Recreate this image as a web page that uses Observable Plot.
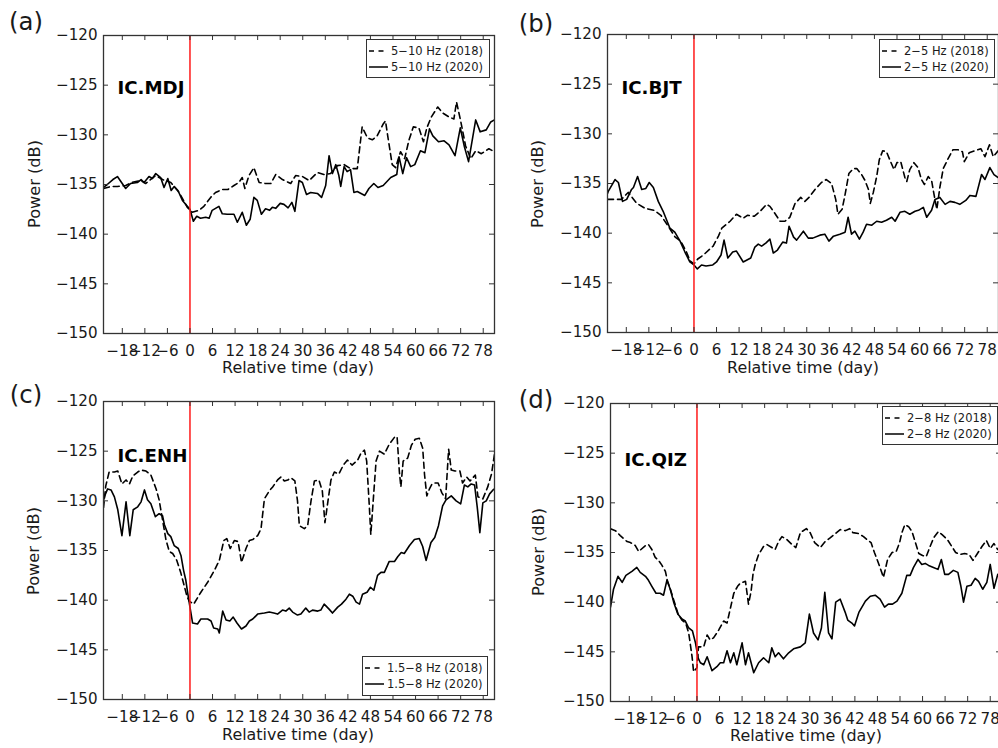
<!DOCTYPE html>
<html>
<head>
<meta charset="utf-8">
<script src="https://cdn.jsdelivr.net/npm/d3@7"></script>
<script src="https://cdn.jsdelivr.net/npm/@observablehq/plot@0.6"></script>
<style>
html, body { margin: 0; padding: 0; background: #fff; }
#root { position: relative; width: 998px; height: 748px; overflow: hidden; font-family: "DejaVu Sans", sans-serif; color: #1a1a1a; }
.panel { position: absolute; }
.letter { position: absolute; line-height: 1; transform: translate(-50%, -50%); white-space: nowrap; }
.ylab { position: absolute; line-height: 1; transform: translate(-50%, -50%) rotate(-90deg); white-space: nowrap; }
.xlab { position: absolute; line-height: 1; transform: translate(-50%, -50%); white-space: nowrap; }
.legend { position: absolute; box-sizing: border-box; border: 1.3px solid #333; background: #fff; padding: 3px 0 0 2px; }
.legend .row { display: flex; align-items: center; height: 16px; white-space: nowrap; }
.legend svg { margin-right: 3px; flex: none; }
</style>
</head>
<body>
<div id="root"></div>
<script>
// ---------- axes / labels ----------
const xTicks = [-18, -12, -6, 0, 6, 12, 18, 24, 30, 36, 42, 48, 54, 60, 66, 72, 78];
const yTicks = [-150, -145, -140, -135, -130, -125, -120];
const xDomain = [-23, 81];
const yDomain = [-150, -120];
const panelLetters = ["(a)", "(b)", "(c)", "(d)"];
const stations = ["IC.MDJ", "IC.BJT", "IC.ENH", "IC.QIZ"];
const bands = ["5−10 Hz", "2−5 Hz", "1.5−8 Hz", "2−8 Hz"];
const years = ["2018", "2020"];
const xTitle = "Relative time (day)";
const yTitle = "Power (dB)";

// ---------- data: [relative day, power dB] ----------
const mdj2018 = [[-23,-135.4],[-21,-135.2],[-19.3,-135.2],[-17.1,-135.1],[-15.5,-134.8],[-13.1,-134.6],[-11.8,-134.9],[-9.1,-134.1],[-7.3,-134.5],[-5.1,-134.8],[-2.9,-135.8],[-0.7,-137.3],[0.6,-137.8],[2.4,-137.6],[3.7,-137.2],[5.5,-136.3],[6.8,-135.8],[8.6,-135.5],[10.1,-135.5],[11.7,-135.1],[13,-134.8],[13.9,-134.3],[14.6,-135.4],[15.7,-134.1],[17,-133.3],[18.4,-134.8],[20.1,-134.9],[21.5,-134.9],[22.8,-134.0],[24.6,-134.5],[26.8,-134.9],[28.1,-134.1],[29.9,-134.2],[31.7,-134.6],[33.9,-133.8],[35.6,-134.0],[37.4,-133.9],[39.2,-133.1],[41,-133.0],[42.7,-133.4],[44.5,-133.4],[45.8,-129.2],[47.2,-130.3],[48.5,-130.5],[49.8,-130.1],[51.4,-128.9],[52,-128.6],[52.8,-130.6],[53.8,-133.0],[54.7,-133.3],[56,-131.7],[57.1,-132.4],[58.2,-130.6],[59.4,-129.2],[60.9,-129.3],[62.1,-130.7],[63,-129.3],[64.2,-128.2],[65.9,-127.2],[67.2,-127.8],[68.9,-128.2],[70.2,-128.4],[70.9,-126.7],[72,-128.6],[73.3,-131.1],[74.7,-132.4],[76,-131.6],[77.5,-131.9],[79.5,-131.4],[81,-131.7]];
const mdj2020 = [[-23,-135.3],[-22,-135.0],[-20.5,-134.5],[-19.3,-134.2],[-17.1,-135.4],[-15.8,-134.9],[-14,-134.8],[-13,-134.5],[-12.2,-134.8],[-10.9,-134.2],[-10,-134.4],[-9.1,-133.9],[-7.8,-134.3],[-6.9,-135.3],[-5.9,-134.4],[-5,-135.6],[-4.2,-135.2],[-3.2,-135.6],[-2,-136.6],[-0.7,-137.2],[0,-137.5],[0.9,-138.7],[1.8,-138.2],[2.8,-138.4],[4.2,-138.3],[5.1,-138.4],[5.9,-137.6],[7.7,-137.2],[8.6,-137.95],[9.9,-138.0],[11.7,-138.0],[12.6,-138.8],[13.9,-137.8],[15,-139.1],[16,-138.5],[17,-136.3],[17.9,-136.6],[19,-138.0],[20.1,-137.45],[21.2,-137.6],[21.9,-137.3],[22.8,-137.4],[24,-136.9],[25,-137.0],[26.1,-137.35],[27.1,-136.8],[27.9,-137.7],[29,-134.6],[29.9,-134.8],[31,-136.0],[32.1,-135.8],[33.9,-135.9],[35,-136.3],[36.1,-135.1],[37,-132.1],[37.9,-133.9],[38.8,-133.0],[39.6,-134.1],[40.1,-135.2],[41,-133.2],[41.8,-133.7],[42.7,-133.5],[43.6,-135.8],[44.5,-135.7],[46.5,-136.1],[47.6,-135.4],[48.9,-134.9],[50,-135.3],[51.4,-135.1],[53.4,-134.3],[55,-134.0],[55.6,-132.2],[56.6,-133.9],[57.6,-132.3],[58.7,-133.2],[59.8,-133.0],[61.3,-131.6],[62.5,-131.8],[63.7,-129.4],[64.6,-130.1],[66.1,-130.7],[67.6,-130.6],[68.9,-131.0],[70.5,-132.1],[71.9,-129.3],[73,-131.2],[74.1,-132.7],[76,-128.5],[77.2,-129.7],[78.8,-129.5],[80,-128.7],[81,-128.5]];

const bjt2018 = [[-23,-136.6],[-19.3,-136.6],[-17.5,-135.9],[-15.2,-137.0],[-13,-137.5],[-10.6,-137.7],[-8.8,-138.2],[-6.5,-139.5],[-5,-140.4],[-3.5,-140.8],[-2,-141.9],[-1,-142.8],[0,-143.1],[1,-142.6],[2.5,-142.2],[5.1,-141.3],[6.5,-140.3],[7.4,-139.5],[9.6,-138.8],[11.3,-138.1],[13.1,-138.5],[14.2,-138.2],[16,-138.3],[17.6,-137.8],[19.3,-137.1],[20.2,-137.3],[21.5,-138.0],[22.9,-138.8],[24.2,-138.8],[25.5,-138.4],[26.9,-137.0],[28.4,-136.4],[29.5,-136.8],[30.6,-136.4],[32.2,-135.6],[33.9,-134.9],[35.2,-134.6],[36.6,-135.0],[37.7,-136.6],[38.3,-138.1],[39.4,-137.6],[40.2,-136.1],[41.2,-134.0],[42.4,-133.5],[43.3,-133.5],[44.6,-134.1],[45.5,-134.7],[46.4,-135.6],[46.9,-137.0],[47.7,-135.9],[48.6,-134.3],[49.3,-132.6],[50.2,-131.7],[51.2,-131.8],[52.3,-132.8],[53.2,-133.6],[54,-132.9],[55,-132.8],[56.1,-134.4],[56.6,-134.8],[57.4,-133.6],[58.5,-132.9],[59.6,-133.4],[60.5,-134.6],[61.3,-135.1],[62.3,-134.3],[63.2,-134.7],[63.9,-136.2],[64.6,-137.6],[65.4,-135.4],[66.3,-133.5],[67.6,-132.5],[68.9,-131.6],[70.2,-131.6],[71.4,-131.8],[71.9,-132.8],[73.2,-131.9],[74.7,-131.7],[76.3,-131.5],[77.4,-132.3],[78.6,-131.1],[79.6,-132.3],[80.9,-131.7]];
const bjt2020 = [[-23,-136.0],[-22.8,-135.8],[-21,-134.6],[-20.1,-134.9],[-19,-136.8],[-17.9,-136.6],[-16.6,-135.6],[-16.1,-135.4],[-15,-134.3],[-13.9,-135.6],[-12.8,-135.5],[-11.9,-134.9],[-10.8,-135.4],[-9.5,-136.8],[-8.2,-137.8],[-6.4,-139.5],[-5.1,-139.9],[-3.7,-140.8],[-2.4,-141.9],[-1.1,-142.9],[0,-143.2],[0.9,-143.6],[2,-143.2],[3.2,-143.3],[5,-143.2],[6,-142.9],[7.2,-142.2],[8,-140.7],[9,-142.5],[10.3,-141.9],[11.3,-141.8],[13.1,-142.9],[15.1,-142.5],[16.2,-141.4],[17.1,-141.1],[18,-141.3],[19.1,-141.0],[20.2,-140.6],[21.1,-142.0],[22.2,-141.7],[23.6,-140.9],[24.6,-141.0],[25.3,-139.3],[26.5,-140.4],[27.3,-140.7],[29.1,-139.8],[30.4,-140.5],[31.6,-140.5],[33.5,-140.2],[34.8,-140.1],[35.9,-140.8],[37.1,-140.3],[38.8,-140.1],[40.2,-139.9],[41,-138.4],[41.9,-140.1],[42.8,-139.8],[44,-140.6],[45,-139.9],[45.9,-139.1],[47.3,-139.2],[48.6,-138.8],[49.9,-138.9],[51.2,-138.7],[52.6,-138.4],[53.5,-138.8],[54.8,-137.9],[56.1,-137.8],[57.4,-138.1],[58.8,-137.8],[59.7,-137.7],[61,-137.4],[61.9,-138.4],[63.2,-137.7],[64.1,-136.6],[65.4,-136.4],[66.8,-137.1],[68.1,-136.8],[69.4,-136.9],[70.7,-137.1],[72.3,-136.7],[73.4,-136.2],[75,-136.3],[76.5,-134.1],[77.4,-134.6],[78.7,-133.4],[79.8,-134.1],[80.9,-134.4]];

const enh2018 = [[-23,-130.7],[-22.4,-128.5],[-21.5,-127.1],[-20.1,-127.1],[-19.2,-127.0],[-18.1,-128.3],[-17,-127.9],[-16.1,-128.3],[-15.2,-127.5],[-13.9,-127.1],[-13,-126.9],[-11.7,-127.0],[-10.4,-127.4],[-9,-128.8],[-8.2,-129.9],[-7.3,-131.9],[-6.4,-133.9],[-5.5,-135.1],[-4.6,-135.3],[-3.5,-136.0],[-2.4,-137.3],[-1.5,-138.6],[-0.8,-139.6],[-0.2,-140.1],[1,-140.4],[2.9,-139.2],[4.7,-138.2],[6.5,-137.0],[7.8,-136.0],[9,-134.0],[9.8,-133.8],[10.7,-134.8],[11.8,-134.0],[12.8,-134.1],[13.7,-136.2],[14.9,-134.8],[15.8,-134.0],[16.7,-133.9],[18,-133.5],[18.9,-132.8],[19.8,-129.8],[21.1,-129.0],[22,-128.6],[23.3,-127.9],[24.2,-127.6],[25.1,-128.0],[26,-127.9],[26.9,-127.7],[27.9,-128.0],[28.6,-130.0],[29.1,-132.5],[30.4,-132.8],[31.3,-132.5],[32.2,-130.0],[33.1,-128.0],[34.3,-127.9],[35.2,-129.0],[35.9,-132.2],[36.6,-130.3],[37.5,-127.9],[38.4,-127.1],[39.6,-127.3],[40.8,-126.4],[41.9,-125.9],[43.1,-126.4],[44.6,-125.9],[45.5,-125.2],[46.4,-124.9],[47,-126.0],[47.7,-130.5],[48.1,-133.4],[48.7,-130.2],[49.5,-126.0],[50.4,-125.0],[51.7,-125.3],[53,-124.3],[54.6,-123.5],[55.1,-123.6],[55.7,-127.1],[56.1,-128.6],[56.7,-126.0],[57.9,-125.7],[58.9,-124.4],[59.9,-123.8],[61,-123.7],[61.9,-124.7],[62.4,-127.4],[63,-129.5],[63.7,-128.8],[64.4,-128.3],[65.3,-128.2],[66,-128.2],[67,-129.2],[68,-129.8],[68.8,-124.8],[69.5,-126.9],[70.5,-127.0],[71.8,-127.0],[72.5,-128.2],[73.6,-127.6],[74.5,-128.0],[75.9,-127.4],[76.6,-129.6],[77.9,-129.8],[79.2,-128.6],[80.2,-127.3],[81,-125.3]];
const enh2020 = [[-23,-130.0],[-22.8,-129.6],[-21.9,-128.8],[-21,-128.9],[-20.1,-129.6],[-19.2,-130.9],[-18.1,-133.5],[-17,-130.1],[-16,-133.5],[-15.1,-130.9],[-13.9,-130.6],[-13,-130.1],[-12.1,-128.9],[-11.3,-129.9],[-10.4,-130.3],[-9.2,-131.6],[-8.2,-131.3],[-7.3,-131.5],[-6.8,-132.4],[-5.9,-133.3],[-5.1,-133.6],[-4.2,-134.5],[-3.1,-134.8],[-2.4,-135.5],[-1.7,-137.0],[-1.1,-138.0],[-0.6,-139.3],[0,-140.7],[0.7,-142.3],[2,-142.4],[2.9,-141.9],[4.7,-141.9],[5.6,-142.1],[6.3,-142.8],[7.4,-142.9],[7.8,-143.3],[8.7,-141.1],[9.6,-142.0],[10.6,-142.1],[11.5,-141.7],[12.5,-142.3],[13.7,-142.9],[14.9,-142.6],[15.8,-142.1],[16.7,-141.9],[18,-141.4],[19.8,-141.3],[21.1,-141.2],[22.3,-141.3],[23.3,-141.4],[24.6,-141.0],[25.5,-141.1],[26.4,-140.8],[27.3,-141.2],[28.6,-141.5],[29.5,-141.4],[30.8,-140.8],[31.7,-141.2],[32.6,-141.0],[34,-141.1],[34.8,-141.0],[35.7,-140.4],[37,-140.9],[37.9,-141.3],[39.3,-140.7],[40.3,-140.4],[41.5,-139.9],[42.4,-139.4],[43.3,-139.6],[44.2,-140.2],[45.1,-140.4],[45.9,-139.4],[47.1,-139.2],[48,-138.7],[48.9,-139.0],[49.9,-137.5],[50.8,-137.2],[51.7,-137.2],[53,-136.1],[54.4,-136.1],[55.3,-135.6],[56.2,-135.2],[57,-135.3],[58.4,-134.5],[59.7,-133.9],[61,-133.8],[61.9,-134.6],[62.8,-136.0],[64.1,-134.2],[65.1,-133.7],[66.1,-132.5],[67.2,-130.5],[68.1,-129.9],[69.5,-129.5],[70.8,-130.0],[72,-130.3],[73,-128.4],[73.9,-128.6],[74.8,-128.3],[75.7,-128.4],[76.4,-130.6],[77.1,-133.2],[77.9,-130.2],[78.8,-130.0],[79.7,-129.3],[80.6,-128.9],[81,-128.8]];

const qiz2018 = [[-23,-132.6],[-21.7,-132.8],[-20.4,-133.3],[-18.6,-133.9],[-17.7,-134.0],[-16.4,-134.3],[-15.5,-134.9],[-13.7,-134.3],[-12.9,-134.2],[-12,-134.7],[-11.1,-135.5],[-10.2,-135.8],[-9.3,-136.3],[-8.4,-136.9],[-7.9,-137.8],[-7,-138.8],[-6,-140.0],[-5,-141.2],[-4,-141.8],[-3,-142.1],[-2.2,-143.1],[-1.3,-145.5],[-0.9,-147.0],[0,-146.6],[0.4,-144.5],[1.8,-144.5],[2.7,-143.3],[3.5,-143.8],[4.4,-143.6],[5.8,-142.8],[7.1,-141.9],[8,-142.1],[8.9,-140.6],[9.8,-139.1],[10.8,-138.4],[11.5,-138.1],[12.9,-137.9],[13.7,-140.2],[14.4,-138.9],[14.9,-137.2],[15.5,-136.2],[16.4,-135.2],[17.7,-134.4],[18.6,-134.2],[19.9,-134.5],[20.8,-134.7],[21.7,-133.9],[22.6,-133.4],[23.9,-133.7],[25.3,-134.2],[26.3,-134.5],[27.5,-133.0],[29.1,-132.6],[30.1,-133.0],[31.3,-134.0],[32.8,-134.5],[34.1,-133.9],[35.5,-133.5],[36.8,-133.1],[38.1,-132.7],[39.5,-132.8],[40.6,-132.6],[41.5,-133.0],[43,-133.1],[44.3,-133.4],[45.2,-133.7],[46.3,-134.0],[47.2,-135.0],[48.5,-136.3],[49.6,-137.5],[50.7,-135.7],[51.9,-135.0],[53,-134.9],[53.9,-134.0],[54.5,-133.0],[55.3,-132.2],[56.3,-132.4],[57.2,-132.9],[58.1,-134.0],[59,-135.1],[60,-135.3],[61,-135.4],[62,-134.4],[63,-133.5],[64.2,-132.9],[65.2,-133.2],[66.6,-133.7],[67.8,-134.4],[68.8,-135.0],[70,-135.2],[71.2,-135.1],[72.4,-135.2],[73.4,-135.8],[74.6,-135.1],[75.8,-134.4],[77,-133.8],[78,-134.6],[79,-134.1],[80,-134.7],[81,-134.5]];
const qiz2020 = [[-23,-140.5],[-22.2,-138.7],[-21,-137.4],[-19.9,-138.0],[-18.9,-137.3],[-17.3,-136.9],[-16,-136.5],[-15.1,-137.0],[-13.7,-137.4],[-12.9,-137.8],[-12,-138.4],[-10.9,-139.1],[-9.8,-139.1],[-8.9,-139.3],[-8,-137.8],[-7.1,-138.7],[-6.2,-140.0],[-5.1,-141.2],[-4,-141.7],[-3.1,-141.9],[-2.2,-142.6],[-1.2,-142.9],[-0.4,-144.1],[0.3,-145.6],[0.9,-146.1],[1.8,-146.3],[2.7,-145.5],[4,-146.9],[5.3,-146.5],[6.2,-146.1],[7.1,-146.1],[8,-144.9],[8.9,-146.1],[9.8,-145.1],[10.6,-146.3],[12,-144.1],[12.9,-146.3],[13.7,-145.1],[15.1,-147.1],[16.4,-146.1],[17.7,-145.6],[19.1,-146.1],[19.9,-144.6],[20.8,-145.5],[21.7,-145.1],[23,-145.7],[24.4,-145.1],[25.7,-144.7],[27.5,-144.5],[28.8,-144.1],[29.9,-141.2],[31,-143.1],[32.2,-143.8],[33.1,-142.6],[34,-139.0],[35,-143.1],[35.9,-143.7],[36.9,-140.0],[38.1,-139.7],[39.4,-141.0],[40.1,-141.8],[41.2,-142.1],[41.9,-142.4],[43.1,-141.0],[44.8,-139.9],[46.1,-139.4],[47.4,-139.3],[48.7,-139.7],[49.9,-140.5],[50.9,-140.2],[52,-140.2],[53.2,-139.9],[54.5,-139.1],[55.8,-137.3],[56.7,-137.3],[57.6,-136.5],[58.8,-135.7],[59.8,-136.2],[60.7,-136.1],[61.6,-136.3],[62.9,-136.5],[64.1,-136.7],[65,-135.7],[65.9,-137.2],[66.9,-137.2],[68.2,-136.8],[69.4,-137.0],[70.2,-138.4],[70.9,-140.0],[71.8,-138.4],[72.9,-138.3],[74,-137.6],[74.9,-137.9],[76,-138.7],[77.1,-138.0],[78,-136.2],[79,-138.6],[80,-137.2],[81,-137.6]];

const series2018 = [mdj2018, bjt2018, enh2018, qiz2018];
const series2020 = [mdj2020, bjt2020, enh2020, qiz2020];

// ---------- layout (pixels) ----------
const layout = [
  {left: 0,   top: 0,   letter: [26, 22],   ylab: [35, 184],  xlab: [298, 368], legend: {left: 366, top: 39,  w: 124, h: 39}, stationDy: 46},
  {left: 504, top: -1,  letter: [536, 24],  ylab: [538, 184], xlab: [803, 368], legend: {left: 879, top: 39,  w: 116, h: 39}, stationDy: 47},
  {left: 0,   top: 366, letter: [26, 395],  ylab: [34, 551],  xlab: [298, 735], legend: {left: 362, top: 656, w: 126, h: 40}, stationDy: 48},
  {left: 507, top: 368, letter: [536, 400], ylab: [539, 552], xlab: [806, 736], legend: {left: 882, top: 406, w: 116, h: 39}, stationDy: 50}
];

const W = 500, H = 374, MT = 35, MB = 41, ML = 103, MR = 6;
const FH = H - MT - MB, FW = W - ML - MR;
const FAMILY = "DejaVu Sans";
const fmt = d => String(d).replace("-", "\u2212");

// font sizes fitted to the widths of the reference texts
const ctx = document.createElement("canvas").getContext("2d");
function fit(text, target, weight = "normal") {
  ctx.font = `${weight} 100px "${FAMILY}"`;
  return +(100 * target / ctx.measureText(text).width).toFixed(2);
}
const tickFont = fit("\u2212150", 41.5);
const xTitleSize = fit(xTitle, 152);
const yTitleSize = fit(yTitle, 88);
const letterSize = fit("(a)", 34);
const stationSize = fit("IC.MDJ", 67, "bold");
const legendSize = fit("5\u221210 Hz (2018)", 92);

const root = document.getElementById("root");

function legendSample(dashed) {
  return `<svg width="19" height="6"><line x1="0" y1="3" x2="19" y2="3" stroke="#000" stroke-width="1.5" ${dashed ? 'stroke-dasharray="5,4.5"' : ""}/></svg>`;
}

for (let i = 0; i < 4; i++) {
  const L = layout[i];
  const chart = Plot.plot({
    width: W, height: H,
    marginTop: MT, marginBottom: MB, marginLeft: ML, marginRight: MR,
    x: {domain: xDomain, axis: null},
    y: {domain: yDomain, axis: null},
    style: {fontFamily: FAMILY, color: "#1a1a1a", background: "transparent", overflow: "visible"},
    marks: [
      Plot.line(series2018[i], {x: d => d[0], y: d => d[1], stroke: "#000", strokeWidth: 1.6, strokeDasharray: "6,4", clip: true}),
      Plot.line(series2020[i], {x: d => d[0], y: d => d[1], stroke: "#000", strokeWidth: 1.6, clip: true}),
      Plot.ruleX([0], {stroke: "#ff1a1a", strokeWidth: 1.5}),
      // inward tick marks on all four sides
      Plot.ruleX(xTicks, {x: d => d, insetTop: FH - 5, stroke: "#333"}),
      Plot.ruleX(xTicks, {x: d => d, insetBottom: FH - 5, stroke: "#333"}),
      Plot.ruleY(yTicks, {y: d => d, insetRight: FW - 5, stroke: "#333"}),
      Plot.ruleY(yTicks, {y: d => d, insetLeft: FW - 5, stroke: "#333"}),
      // tick labels
      Plot.text(xTicks, {x: d => d, frameAnchor: "bottom", lineAnchor: "top", dy: 12, text: fmt, fontSize: tickFont, fontFamily: FAMILY, fill: "#1a1a1a"}),
      Plot.text(yTicks, {y: d => d, frameAnchor: "left", textAnchor: "end", dx: -6, text: fmt, fontSize: tickFont, fontFamily: FAMILY, fill: "#1a1a1a"}),
      Plot.text([stations[i]], {frameAnchor: "top-left", text: d => d, dx: 14, dy: L.stationDy, textAnchor: "start", fontWeight: "bold", fontSize: stationSize, fontFamily: FAMILY, fill: "#000"}),
      Plot.frame({stroke: "#333", strokeWidth: 1.3})
    ]
  });
  chart.classList.add("panel");
  chart.style.left = L.left + "px";
  chart.style.top = L.top + "px";
  root.appendChild(chart);

  const letter = document.createElement("div");
  letter.className = "letter";
  letter.textContent = panelLetters[i];
  letter.style.fontSize = letterSize + "px";
  letter.style.left = L.letter[0] + "px";
  letter.style.top = L.letter[1] + "px";
  root.appendChild(letter);

  const yl = document.createElement("div");
  yl.className = "ylab";
  yl.textContent = yTitle;
  yl.style.fontSize = yTitleSize + "px";
  yl.style.left = L.ylab[0] + "px";
  yl.style.top = L.ylab[1] + "px";
  root.appendChild(yl);

  const xl = document.createElement("div");
  xl.className = "xlab";
  xl.textContent = xTitle;
  xl.style.fontSize = xTitleSize + "px";
  xl.style.left = L.xlab[0] + "px";
  xl.style.top = L.xlab[1] + "px";
  root.appendChild(xl);

  const lg = document.createElement("div");
  lg.className = "legend";
  lg.style.fontSize = legendSize + "px";
  lg.style.left = L.legend.left + "px";
  lg.style.top = L.legend.top + "px";
  lg.style.width = L.legend.w + "px";
  lg.style.height = L.legend.h + "px";
  lg.innerHTML = years.map((y, k) =>
    `<div class="row">${legendSample(k === 0)}<span>${bands[i]} (${y})</span></div>`).join("");
  root.appendChild(lg);
}
</script>
</body>
</html>
